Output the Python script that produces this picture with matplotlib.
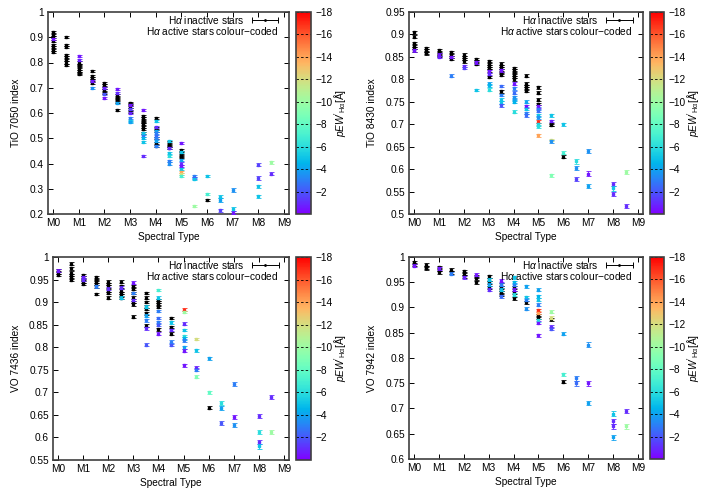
import numpy as np
import matplotlib
matplotlib.use("Agg")
import matplotlib.pyplot as plt
from matplotlib.ticker import FuncFormatter, MultipleLocator
from matplotlib.legend_handler import HandlerErrorbar

plt.rcParams['font.family'] = ['Liberation Sans', 'DejaVu Sans']
plt.rcParams['mathtext.fontset'] = 'custom'
plt.rcParams['mathtext.rm'] = 'Liberation Sans'
plt.rcParams['mathtext.it'] = 'Liberation Sans:italic'

sptypes = ["M0", "M1", "M2", "M3", "M4", "M5", "M6", "M7", "M8", "M9"]

# ---- TiO 7050 ----
tio7050_sp_in = [0, 0, 0, 0, 0, 0, 0, 0,
                 0.5, 0.5, 0.5, 0.5, 0.5, 0.5, 0.5, 0.5,
                 1, 1, 1, 1, 1, 1, 1,
                 1.5, 1.5, 1.5, 1.5, 1.5,
                 2, 2, 2, 2, 2,
                 2.5, 2.5, 2.5, 2.5, 2.5,
                 3, 3, 3, 3, 3,
                 3.5, 3.5, 3.5, 3.5, 3.5, 3.5, 3.5, 3.5,
                 4, 4, 4, 4, 4, 4,
                 4.5, 4.5, 4.5, 4.5,
                 5, 5, 5, 5,
                 6]
tio7050_in = [0.92, 0.91, 0.90, 0.885, 0.87, 0.86, 0.85, 0.84,
              0.90, 0.87, 0.86, 0.83, 0.82, 0.81, 0.80, 0.79,
              0.80, 0.79, 0.785, 0.775, 0.765, 0.76, 0.755,
              0.765, 0.745, 0.74, 0.73, 0.72,
              0.72, 0.71, 0.70, 0.69, 0.68,
              0.67, 0.66, 0.655, 0.645, 0.61,
              0.64, 0.635, 0.625, 0.615, 0.605,
              0.59, 0.58, 0.57, 0.565, 0.555, 0.545, 0.535, 0.52,
              0.58, 0.54, 0.53, 0.50, 0.48, 0.47,
              0.485, 0.475, 0.47, 0.46,
              0.455, 0.44, 0.43, 0.425,
              0.257]
tio7050_sp_act = [0, 1, 1, 1.5, 1.5, 2, 2, 2, 2.5, 2.5, 2.5,
                  3, 3, 3, 3, 3, 3,
                  3.5, 3.5, 3.5, 3.5, 3.5, 3.5,
                  4, 4, 4, 4, 4, 4, 4, 4,
                  4.5, 4.5, 4.5, 4.5, 4.5, 4.5,
                  5, 5, 5, 5, 5, 5, 5, 5, 5,
                  5.5, 5.5, 5.5, 5.5, 6, 6, 6.5, 6.5, 6.5,
                  7, 7, 7, 8, 8, 8, 8, 8.5, 8.5]
tio7050_act = [0.895, 0.825, 0.81, 0.725, 0.698, 0.70, 0.675, 0.66, 0.695, 0.68, 0.64,
               0.63, 0.615, 0.60, 0.58, 0.57, 0.565,
               0.61, 0.52, 0.51, 0.50, 0.485, 0.43,
               0.57, 0.545, 0.53, 0.52, 0.51, 0.50, 0.49, 0.47,
               0.49, 0.46, 0.44, 0.43, 0.41, 0.40,
               0.48, 0.445, 0.415, 0.40, 0.39, 0.38, 0.365, 0.36, 0.35,
               0.35, 0.343, 0.337, 0.232, 0.35, 0.278, 0.268, 0.255, 0.215,
               0.295, 0.22, 0.205, 0.395, 0.343, 0.31, 0.27, 0.405, 0.36]
tio7050_ew = [-0.5, -0.5, -0.8, -0.5, -3.5, -0.8, -2.0, -0.5, -0.5, -1.0, -4.0,
              -0.5, -1.5, -0.8, -3.0, -5.0, -4.0,
              -0.5, -5.0, -3.0, -4.5, -5.0, -1.0,
              -5.0, -1.0, -4.0, -3.0, -2.5, -3.0, -4.0, -3.0,
              -5.0, -1.0, -5.0, -6.0, -3.0, -3.5,
              -0.5, -5.0, -4.0, -1.0, -0.5, -5.0, -14.0, -12.0, -7.0,
              -3.0, -2.0, -5.0, -10.0, -5.0, -7.0, -5.0, -4.0, -1.5,
              -3.5, -5.0, -0.5, -1.5, -1.5, -5.0, -5.0, -10.0, -1.0]

# ---- TiO 8430 ----
tio8430_sp_in = [0, 0, 0, 0, 0, 0,
                 0.5, 0.5, 0.5, 0.5,
                 1, 1, 1, 1,
                 1.5, 1.5, 1.5, 1.5,
                 2, 2, 2, 2,
                 2.5, 2.5, 2.5,
                 3, 3, 3, 3, 3, 3,
                 3.5, 3.5, 3.5, 3.5, 3.5, 3.5, 3.5,
                 4, 4, 4, 4, 4, 4,
                 4.5, 4.5, 4.5, 4.5, 4.5,
                 5, 5, 5, 5,
                 5.5, 5.5, 6]
tio8430_in = [0.905, 0.895, 0.88, 0.875, 0.87, 0.865,
              0.87, 0.865, 0.86, 0.858,
              0.865, 0.86, 0.855, 0.852,
              0.86, 0.855, 0.85, 0.845,
              0.855, 0.85, 0.845, 0.84,
              0.845, 0.84, 0.835,
              0.84, 0.835, 0.83, 0.825, 0.82, 0.805,
              0.835, 0.83, 0.825, 0.82, 0.815, 0.81, 0.773,
              0.825, 0.82, 0.815, 0.81, 0.805, 0.80,
              0.808, 0.79, 0.785, 0.78, 0.775,
              0.782, 0.77, 0.755, 0.745,
              0.70, 0.698, 0.628]
tio8430_sp_act = [0, 1, 1, 1.5, 1.5, 2, 2, 2.5, 2.5,
                  3, 3, 3, 3, 3,
                  3.5, 3.5, 3.5, 3.5, 3.5, 3.5,
                  4, 4, 4, 4, 4, 4, 4,
                  4.5, 4.5, 4.5, 4.5, 4.5,
                  5, 5, 5, 5, 5, 5, 5, 5, 5,
                  5.5, 5.5, 5.5, 5.5, 5.5, 6, 6,
                  6.5, 6.5, 6.5, 7, 7, 7, 8, 8, 8, 8.5, 8.5]
tio8430_act = [0.865, 0.855, 0.85, 0.85, 0.808, 0.83, 0.825, 0.838, 0.776,
               0.818, 0.812, 0.79, 0.787, 0.777,
               0.82, 0.785, 0.765, 0.755, 0.748, 0.742,
               0.79, 0.78, 0.77, 0.76, 0.755, 0.75, 0.728,
               0.75, 0.74, 0.735, 0.725, 0.72,
               0.74, 0.735, 0.73, 0.72, 0.715, 0.706, 0.70, 0.695, 0.675,
               0.72, 0.707, 0.665, 0.662, 0.586, 0.70, 0.637,
               0.617, 0.603, 0.578, 0.64, 0.59, 0.562, 0.567, 0.557, 0.545, 0.594, 0.518]
tio8430_ew = [-0.5, -0.5, -0.8, -0.5, -3.0, -1.0, -1.5, -0.5, -5.0,
              -0.5, -1.0, -4.0, -4.5, -6.0,
              -0.5, -2.5, -3.0, -5.0, -5.0, -2.0,
              -0.5, -3.0, -2.5, -3.5, -4.0, -4.5, -6.0,
              -4.0, -0.5, -5.0, -3.0, -2.5,
              -0.5, -3.0, -2.5, -5.0, -3.5, -17.0, -5.5, -6.0, -14.0,
              -5.0, -0.8, -12.0, -3.5, -9.0, -5.0, -7.0,
              -6.0, -3.5, -1.5, -3.5, -0.5, -4.0, -1.0, -5.0, -1.0, -10.0, -1.0]

# ---- VO 7436 ----
vo7436_sp_in = [0, 0, 0,
                0.5, 0.5, 0.5, 0.5, 0.5, 0.5,
                1, 1, 1, 1, 1,
                1.5, 1.5, 1.5, 1.5, 1.5, 1.5,
                2, 2, 2, 2, 2, 2,
                2.5, 2.5, 2.5, 2.5, 2.5, 2.5,
                3, 3, 3, 3, 3, 3, 3,
                3.5, 3.5, 3.5, 3.5, 3.5, 3.5, 3.5,
                4, 4, 4, 4, 4,
                4.5, 4.5, 4.5,
                6]
vo7436_in = [0.97, 0.965, 0.96,
             0.985, 0.975, 0.965, 0.96, 0.955, 0.95,
             0.96, 0.955, 0.95, 0.945, 0.94,
             0.955, 0.95, 0.945, 0.94, 0.935, 0.918,
             0.945, 0.94, 0.935, 0.925, 0.92, 0.91,
             0.945, 0.935, 0.925, 0.92, 0.915, 0.91,
             0.935, 0.93, 0.92, 0.91, 0.90, 0.895, 0.868,
             0.92, 0.91, 0.90, 0.89, 0.885, 0.875, 0.848,
             0.905, 0.90, 0.895, 0.89, 0.84,
             0.865, 0.845, 0.83,
             0.666]
vo7436_sp_act = [0, 1, 1, 1.5, 2, 2.5, 2.5, 3, 3, 3,
                 3.5, 3.5, 3.5, 3.5, 3.5,
                 4, 4, 4, 4, 4, 4, 4,
                 4.5, 4.5, 4.5, 4.5,
                 5, 5, 5, 5, 5, 5, 5, 5, 5, 5,
                 5.5, 5.5, 5.5, 5.5, 5.5, 6, 6,
                 6.5, 6.5, 6.5, 7, 7, 7, 8, 8, 8, 8, 8.5, 8.5]
vo7436_act = [0.97, 0.955, 0.95, 0.935, 0.93, 0.932, 0.91, 0.943, 0.92, 0.905,
              0.89, 0.87, 0.86, 0.842, 0.806,
              0.927, 0.91, 0.88, 0.865, 0.855, 0.85, 0.83,
              0.855, 0.838, 0.812, 0.805,
              0.883, 0.878, 0.852, 0.838, 0.825, 0.82, 0.815, 0.80, 0.792, 0.76,
              0.818, 0.793, 0.755, 0.75, 0.735, 0.775, 0.70,
              0.677, 0.665, 0.632, 0.718, 0.645, 0.628, 0.648, 0.612, 0.59, 0.58, 0.69, 0.612]
vo7436_ew = [-0.5, -0.8, -1.0, -3.0, -1.0, -1.0, -5.0, -0.5, -3.0, -1.0,
             -5.0, -4.0, -3.0, -1.0, -2.0,
             -7.0, -5.0, -3.0, -2.5, -3.0, -2.0, -0.5,
             -5.0, -1.0, -3.0, -2.0,
             -17.0, -10.0, -1.0, -5.0, -6.0, -4.5, -3.0, -4.0, -0.5, -0.5,
             -12.0, -5.0, -0.8, -3.0, -9.0, -4.0, -8.0,
             -6.0, -4.0, -2.0, -3.0, -0.5, -3.5, -1.0, -6.0, -1.0, -5.0, -1.0, -10.0]

# ---- VO 7942 ----
vo7942_sp_in = [0, 0,
                0.5, 0.5, 0.5,
                1, 1, 1,
                1.5, 1.5,
                2, 2, 2,
                2.5, 2.5, 2.5,
                3, 3, 3, 3,
                3.5, 3.5, 3.5, 3.5, 3.5,
                4, 4, 4,
                4.5, 5, 5, 5.5, 6]
vo7942_in = [0.99, 0.985,
             0.985, 0.98, 0.978,
             0.98, 0.975, 0.97,
             0.975, 0.97,
             0.972, 0.968, 0.962,
             0.962, 0.958, 0.95,
             0.962, 0.955, 0.95, 0.94,
             0.945, 0.94, 0.935, 0.93, 0.925,
             0.94, 0.93, 0.918,
             0.91, 0.885, 0.88, 0.877, 0.753]
vo7942_sp_act = [0, 1, 1.5, 2, 2.5, 3, 3, 3,
                 3.5, 3.5, 3.5, 3.5,
                 4, 4, 4, 4, 4,
                 4.5, 4.5, 4.5, 4.5,
                 5, 5, 5, 5, 5, 5, 5, 5, 5,
                 5.5, 5.5, 5.5, 5.5, 6, 6,
                 6.5, 6.5, 7, 7, 7, 8, 8, 8, 8, 8.5, 8.5]
vo7942_act = [0.983, 0.978, 0.967, 0.96, 0.965, 0.955, 0.945, 0.935,
              0.953, 0.945, 0.935, 0.922,
              0.96, 0.95, 0.945, 0.935, 0.925,
              0.942, 0.92, 0.915, 0.898,
              0.935, 0.922, 0.915, 0.905, 0.895, 0.89, 0.875, 0.87, 0.845,
              0.892, 0.88, 0.862, 0.858, 0.848, 0.768,
              0.76, 0.75, 0.826, 0.75, 0.711, 0.69, 0.675, 0.665, 0.643, 0.695, 0.665]
vo7942_ew = [-0.5, -0.5, -3.0, -0.8, -0.5, -5.0, -4.0, -1.0,
             -0.5, -3.0, -5.0, -2.5,
             -5.0, -4.5, -3.0, -0.5, -6.0,
             -4.0, -5.0, -3.0, -3.5,
             -4.0, -4.5, -5.0, -3.0, -17.0, -14.0, -6.0, -0.5, -0.5,
             -10.0, -12.0, -1.0, -2.0, -4.0, -7.0,
             -3.0, -2.5, -3.5, -0.5, -4.0, -5.0, -1.0, -1.0, -4.0, -1.0, -10.0]

panels = [
    ("TiO 7050 index", tio7050_sp_in, tio7050_in, tio7050_sp_act, tio7050_act, tio7050_ew,
     (0.2, 1.0), 0.1, 0.004),
    ("TiO 8430 index", tio8430_sp_in, tio8430_in, tio8430_sp_act, tio8430_act, tio8430_ew,
     (0.5, 0.95), 0.05, 0.003),
    ("VO 7436 index", vo7436_sp_in, vo7436_in, vo7436_sp_act, vo7436_act, vo7436_ew,
     (0.55, 1.0), 0.05, 0.003),
    ("VO 7942 index", vo7942_sp_in, vo7942_in, vo7942_sp_act, vo7942_act, vo7942_ew,
     (0.6, 1.0), 0.05, 0.003),
]

W, H = 709, 491
# axes boxes in pixels: left, top, right, bottom
boxes = [(48, 12, 289, 214), (409, 12, 643, 214), (53, 257, 289, 460), (409, 257, 643, 459)]
cbars = [(296, 311), (650, 664), (296, 311), (650, 664)]

cmap = plt.get_cmap('rainbow')
norm = plt.Normalize(0, 18)
frame_col = '#404040'
fs = 7.3

fig = plt.figure(figsize=(W / 100, H / 100), dpi=100)

for (ylab, sp_in, v_in, sp_a, v_a, ew_a, ylim, ystep, err), (l, t, r, b), (cl, cr) in zip(panels, boxes, cbars):
    ax = fig.add_axes([l / W, 1 - b / H, (r - l) / W, (b - t) / H])
    for x, y in zip(sp_in, v_in):
        ax.errorbar(x, y, yerr=err, fmt='s', ms=1.6, color='black', ecolor='black',
                    elinewidth=0.6, capsize=1.8, capthick=0.6, zorder=2)
    for x, y, e in zip(sp_a, v_a, ew_a):
        c = cmap(norm(-e))
        ax.errorbar(x, y, yerr=err * (1.6 if x >= 6.5 else 1.0), fmt='s', ms=1.6, color=c, ecolor=c,
                    elinewidth=0.6, capsize=1.8, capthick=0.6, zorder=3)
    # key sample: horizontal errorbar like the gnuplot key
    h = ax.errorbar([np.nan], [np.nan], xerr=[1], fmt='.', ms=2, color='black',
                    elinewidth=0.7, capsize=2, capthick=0.7, label=r'H$\alpha$ inactive stars')
    ax.legend(handles=[h], loc='center right', markerfirst=False, frameon=False, fontsize=fs,
              handlelength=2.8, borderaxespad=0, borderpad=0, handletextpad=0.6,
              bbox_to_anchor=(0.96, 0.962),
              handler_map={type(h): HandlerErrorbar(xerr_size=1.3)})
    ax.text(0.955, 0.906, r'H$\alpha$ active stars colour$-$coded', transform=ax.transAxes,
            ha='right', va='center', fontsize=fs)

    ax.set_xlim(-0.2, 9.2)
    ax.set_xticks(range(10))
    ax.set_xticklabels(sptypes)
    ax.set_ylim(*ylim)
    ax.yaxis.set_major_locator(MultipleLocator(ystep))
    ax.yaxis.set_major_formatter(FuncFormatter(lambda v, p: f"{round(v, 3):g}"))
    ax.tick_params(direction='in', top=True, right=True, length=3.5, width=0.7,
                   labelsize=fs, colors='black', pad=3)
    for s in ax.spines.values():
        s.set_color(frame_col)
        s.set_linewidth(1.2)
    ax.set_xlabel('Spectral Type', fontsize=fs, labelpad=3)
    ax.set_ylabel(ylab, fontsize=fs, labelpad=6)

    cax = fig.add_axes([cl / W, 1 - b / H, (cr - cl) / W, (b - t) / H])
    sm = plt.cm.ScalarMappable(norm=norm, cmap=cmap)
    cb = fig.colorbar(sm, cax=cax, ticks=range(2, 19, 2))
    cb.ax.yaxis.set_major_formatter(FuncFormatter(lambda v, p: f"\u2212{v:g}"))
    cb.ax.tick_params(length=0, labelsize=fs, pad=3)
    for tv in range(2, 19, 2):
        cb.ax.axhline(tv, color='black', lw=0.6, ls=(0, (3, 2.5)))
    cb.outline.set_edgecolor(frame_col)
    cb.outline.set_linewidth(1.2)
    cb.set_label(r"$pEW'_{\rm H\alpha}$[Å]", fontsize=fs, labelpad=0)

fig.savefig('out.png', dpi=100)
